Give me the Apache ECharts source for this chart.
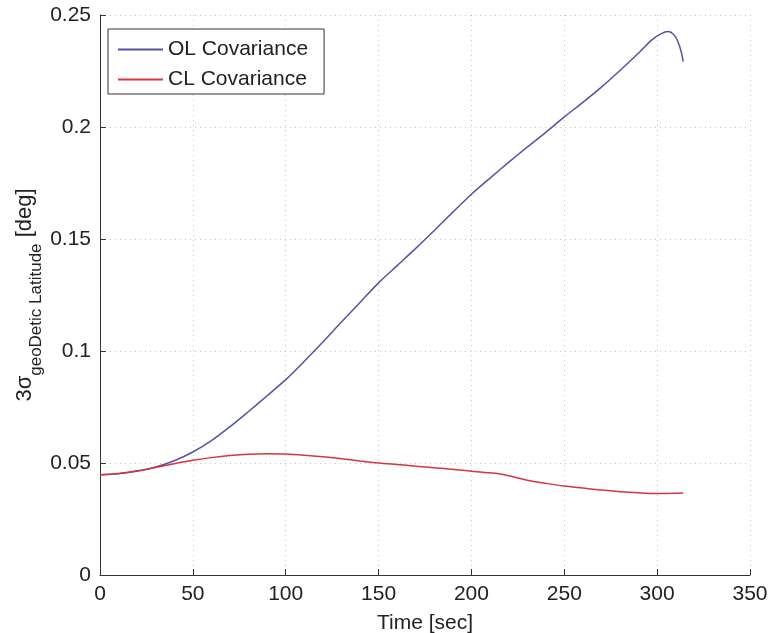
<!DOCTYPE html>
<html>
<head>
<meta charset="utf-8">
<script src="https://cdn.jsdelivr.net/npm/echarts@6/dist/echarts.min.js"></script>
<style>
  html, body { margin: 0; padding: 0; background: #fff; }
  #chart { width: 773px; height: 633px; }
</style>
</head>
<body>
<div id="chart"></div>
<script>
// Time samples [sec] and 3-sigma geodetic latitude uncertainty [deg]
const olTime = [0, 10, 20, 30, 40, 50, 60, 70, 80, 90, 100, 110, 120, 130, 140, 150,
  160, 170, 180, 190, 200, 210, 220, 230, 240, 250, 260, 270, 280, 290, 297, 302, 306, 309, 311, 313, 314];
const olCovariance = [0.0447, 0.0452, 0.0463, 0.0482, 0.0510, 0.0549, 0.0600, 0.0662, 0.0730, 0.0800,
  0.0872, 0.0954, 0.1040, 0.1129, 0.1217, 0.1304, 0.1381, 0.1458, 0.1538, 0.1620, 0.1700, 0.1772,
  0.1842, 0.1910, 0.1976, 0.2045, 0.2110, 0.2178, 0.2252, 0.2330, 0.2388, 0.2416, 0.2426, 0.2412,
  0.2385, 0.2335, 0.2292];

const clTime = [0, 10, 20, 30, 40, 50, 60, 70, 80, 90, 100, 110, 120, 130, 140, 150, 160, 170,
  180, 190, 200, 210, 213, 220, 230, 240, 250, 260, 270, 280, 290, 300, 310, 314];
const clCovariance = [0.0447, 0.0453, 0.0465, 0.0480, 0.0497, 0.0512, 0.0524, 0.0533, 0.0539, 0.0541,
  0.0540, 0.0535, 0.0528, 0.0519, 0.0509, 0.0500, 0.0493, 0.0486, 0.0479, 0.0472, 0.0463, 0.0456,
  0.0454, 0.0443, 0.0423, 0.0409, 0.0397, 0.0388, 0.0379, 0.0372, 0.0367, 0.0364, 0.0365, 0.0366];

const seriesNames = ['OL Covariance', 'CL Covariance'];
const seriesColors = ['#5353a8', '#d6363f'];
const xTicks = { min: 0, max: 350, interval: 50 };
const yTicks = { min: 0, max: 0.25, interval: 0.05 };

const FONT = 'Liberation Sans, Arial, Helvetica, sans-serif';
const TEXT = '#222';

const chart = echarts.init(document.getElementById('chart'), null, { renderer: 'canvas' });

const axisCommon = {
  axisLine: { show: true, onZero: false, lineStyle: { color: '#333', width: 1 } },
  axisTick: { show: true, inside: true, length: 6, lineStyle: { color: '#333' } },
  axisLabel: { color: TEXT, fontSize: 21, fontFamily: FONT, margin: 9 },
  splitLine: { show: true, lineStyle: { color: '#c4c4c4', type: [1, 4], width: 1 } },
  nameMoveOverlap: false
};

chart.setOption({
  backgroundColor: '#fff',
  animation: false,
  textStyle: { fontFamily: FONT },
  grid: { left: 100, right: 23, top: 15, bottom: 58, containLabel: false, outerBoundsMode: 'none' },
  legend: {
    data: seriesNames,
    orient: 'vertical',
    left: 108,
    top: 29,
    padding: [10, 16, 4, 10],
    itemGap: 9,
    itemWidth: 45,
    itemHeight: 2,
    icon: 'rect',
    borderColor: '#333',
    borderWidth: 1,
    backgroundColor: '#fff',
    textStyle: { color: TEXT, fontSize: 21, fontFamily: FONT }
  },
  xAxis: Object.assign({}, axisCommon, {
    type: 'value',
    min: xTicks.min, max: xTicks.max, interval: xTicks.interval,
    name: 'Time [sec]',
    nameLocation: 'middle',
    nameGap: 38,
    nameTextStyle: { color: TEXT, fontSize: 21, fontFamily: FONT }
  }),
  yAxis: Object.assign({}, axisCommon, {
    type: 'value',
    min: yTicks.min, max: yTicks.max, interval: yTicks.interval,
    name: '{m|3σ}{s|geoDetic Latitude}{m| [deg]}',
    nameLocation: 'middle',
    nameRotate: 90,
    nameGap: 55,
    nameTextStyle: {
      color: TEXT,
      fontFamily: FONT,
      rich: {
        m: { fontSize: 22, fontFamily: FONT, color: TEXT, lineHeight: 22, verticalAlign: 'bottom', padding: [0, 0, 9, 0] },
        s: { fontSize: 17, fontFamily: FONT, color: TEXT, lineHeight: 17, verticalAlign: 'bottom' }
      }
    }
  }),
  series: seriesNames.map((name, k) => ({
    name: name,
    type: 'line',
    data: (k === 0 ? olTime : clTime).map((t, i) => [t, (k === 0 ? olCovariance : clCovariance)[i]]),
    smooth: 0.3,
    symbol: 'none',
    lineStyle: { color: seriesColors[k], width: 1.5 },
    itemStyle: { color: seriesColors[k] },
    z: 3 + k
  }))
});
</script>
</body>
</html>
